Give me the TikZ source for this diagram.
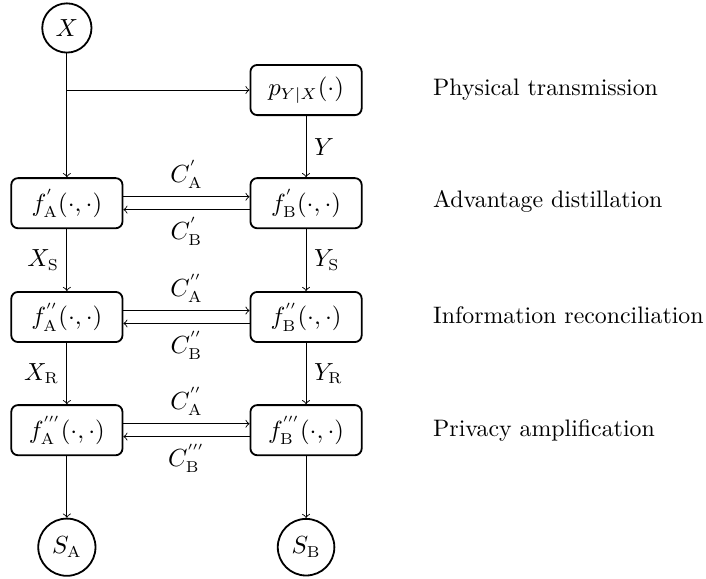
\documentclass[tikz,border=0pt]{standalone}
\begin{document}
\begin{tikzpicture}[
    font=\fontsize{10.55}{12.7}\selectfont,
    caixa/.style={draw, thick, rounded corners=3pt, minimum width=1.73cm, minimum height=0.78cm},
    circulo/.style={draw, thick, circle},
    etapa/.style={anchor=west, inner sep=0pt}
]
    \useasboundingbox (0,0) rectangle (10.98,-9.00);

    % Fonte e canal
    \node[circulo] (X) at (1.04,-0.435) {$X$};
    \node[caixa] (p) at (4.76,-1.40) {$p_{Y|X}(\cdot)$};

    % Blocos de Alice e Bob
    \node[caixa] (fA1) at (1.04,-3.16) {$f^{'}_{\mathrm{A}}(\cdot,\cdot)$};
    \node[caixa] (fB1) at (4.76,-3.16) {$f^{'}_{\mathrm{B}}(\cdot,\cdot)$};
    \node[caixa] (fA2) at (1.04,-4.93) {$f^{''}_{\mathrm{A}}(\cdot,\cdot)$};
    \node[caixa] (fB2) at (4.76,-4.93) {$f^{''}_{\mathrm{B}}(\cdot,\cdot)$};
    \node[caixa] (fA3) at (1.04,-6.69) {$f^{'''}_{\mathrm{A}}(\cdot,\cdot)$};
    \node[caixa] (fB3) at (4.76,-6.69) {$f^{'''}_{\mathrm{B}}(\cdot,\cdot)$};

    % Chaves finais
    \node[circulo] (SA) at (1.04,-8.51) {$S_{\mathrm{A}}$};
    \node[circulo] (SB) at (4.76,-8.51) {$S_{\mathrm{B}}$};

    % Etapas
    \node[etapa] (e1) at (6.73,-1.40) {Physical transmission};
    \node[etapa] (e2) at (6.73,-3.14) {Advantage distillation};
    \node[etapa] (e3) at (6.73,-4.91) {Information reconciliation};
    \node[etapa] (e4) at (6.73,-6.69) {Privacy amplification};

    % Ligações verticais
    \coordinate (ramo) at (X |- p);
    \draw[->] (X) -- (fA1);
    \draw[->] (ramo) -- (p);
    \draw[->] (p) -- node[right] {$Y$} (fB1);
    \draw[->] (fA1) -- node[left] {$X_{\mathrm{S}}$} (fA2);
    \draw[->] (fB1) -- node[right] {$Y_{\mathrm{S}}$} (fB2);
    \draw[->] (fA2) -- node[left] {$X_{\mathrm{R}}$} (fA3);
    \draw[->] (fB2) -- node[right] {$Y_{\mathrm{R}}$} (fB3);
    \draw[->] (fA3) -- (SA);
    \draw[->] (fB3) -- (SB);

    % Ligações horizontais
    \draw[->] ([yshift=0.1cm]fA1.east) -- node[above] {$C^{'}_{\mathrm{A}}$} ([yshift=0.1cm]fB1.west);
    \draw[->] ([yshift=-0.1cm]fB1.west) -- node[below] {$C^{'}_{\mathrm{B}}$} ([yshift=-0.1cm]fA1.east);
    \draw[->] ([yshift=0.1cm]fA2.east) -- node[above] {$C^{''}_{\mathrm{A}}$} ([yshift=0.1cm]fB2.west);
    \draw[->] ([yshift=-0.1cm]fB2.west) -- node[below] {$C^{''}_{\mathrm{B}}$} ([yshift=-0.1cm]fA2.east);
    \draw[->] ([yshift=0.1cm]fA3.east) -- node[above] {$C^{''}_{\mathrm{A}}$} ([yshift=0.1cm]fB3.west);
    \draw[->] ([yshift=-0.1cm]fB3.west) -- node[below] {$C^{'''}_{\mathrm{B}}$} ([yshift=-0.1cm]fA3.east);
\end{tikzpicture}
\end{document}
